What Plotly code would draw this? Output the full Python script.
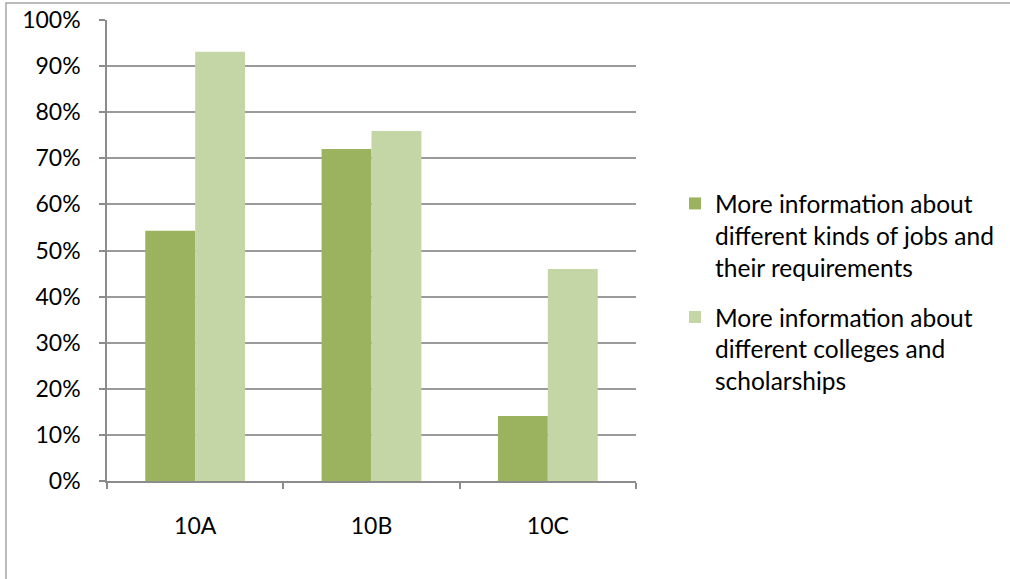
import plotly.graph_objects as go

# Survey results by class
classes = ["10A", "10B", "10C"]
jobs_info = [0.543, 0.72, 0.141]
college_info = [0.931, 0.759, 0.46]

series_names = [
    "More information about<br>different kinds of jobs and<br>their requirements",
    "More information about<br>different colleges and<br>scholarships",
]
y_ticks = [i / 10 for i in range(11)]
y_tick_labels = [f"{i * 10}%" for i in range(11)]

FONT = "Lato"
W, H = 1010, 579
ML, MR, MT, MB = 107, 374, 20, 98
PW, PH = W - ML - MR, H - MT - MB

fig = go.Figure()
fig.add_trace(go.Bar(x=classes, y=jobs_info, name=series_names[0],
                     legendgroup="jobs",
                     marker=dict(color="#9BB35F", line=dict(width=0))))
fig.add_trace(go.Bar(x=classes, y=college_info, name=series_names[1],
                     legendgroup="colleges",
                     marker=dict(color="#C5D6A6", line=dict(width=0))))


def px_x(px):
    return (px - ML) / PW


def px_y(py):
    return 1 - (py - MT) / PH


fig.update_layout(
    width=W, height=H,
    margin=dict(l=ML, r=MR, t=MT, b=MB, pad=0, autoexpand=False),
    paper_bgcolor="white", plot_bgcolor="white",
    barmode="group", bargap=0.434, bargroupgap=0,
    font=dict(family=FONT, size=23, color="#000000"),
    showlegend=True,
    legend=dict(
        x=px_x(675), y=px_y(181), xanchor="left", yanchor="top",
        font=dict(family=FONT, size=24.5, color="#000000"),
        valign="top", tracegroupgap=15, itemwidth=30,
        bgcolor="rgba(0,0,0,0)",
    ),
    xaxis=dict(
        type="category", showgrid=False, showline=True, automargin=False,
        linecolor="#8C8C8C", linewidth=1.5,
        ticks="outside", tickson="boundaries", ticklen=6,
        tickcolor="#8C8C8C", tickwidth=1.5,
        ticklabelstandoff=24,
        tickfont=dict(family=FONT, size=23),
    ),
    yaxis=dict(
        range=[0, 1], tickvals=y_ticks, ticktext=y_tick_labels,
        automargin=False,
        showgrid=True, gridcolor="#9A9A9A", gridwidth=1.5,
        showline=True, linecolor="#8C8C8C", linewidth=1.5,
        ticks="outside", ticklen=6, tickcolor="#8C8C8C", tickwidth=1.5,
        ticklabelstandoff=14, zeroline=False,
        tickfont=dict(family=FONT, size=23),
    ),
    shapes=[
        dict(type="rect", xref="paper", yref="paper",
             x0=px_x(6), x1=px_x(W + 10), y0=px_y(H + 10), y1=px_y(3),
             line=dict(color="#A6A6A6", width=1.5), layer="below"),
    ],
)

fig.write_html("out.html")
